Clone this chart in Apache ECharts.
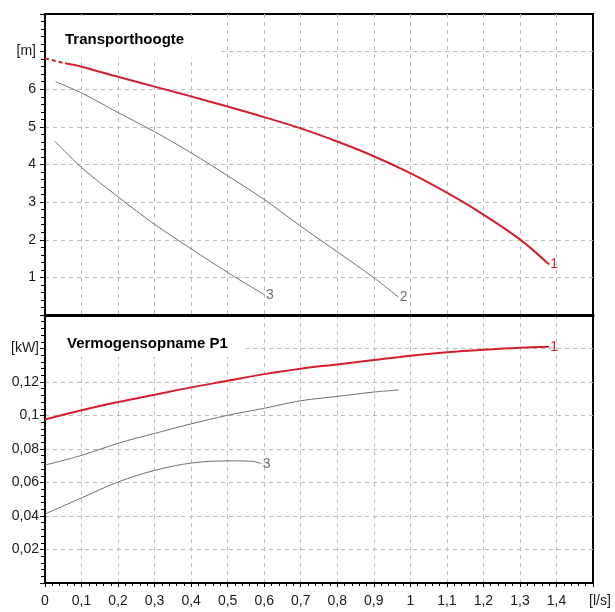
<!DOCTYPE html>
<html>
<head>
<meta charset="utf-8">
<script src="https://cdn.jsdelivr.net/npm/echarts@6/dist/echarts.min.js"></script>
<style>
  html, body { margin: 0; padding: 0; background: #fff; }
  #chart { width: 615px; height: 612px; }
</style>
</head>
<body>
<div id="chart"></div>
<script>
// flow [l/s] vs head [m]
const head1Lead = [[0, 6.82], [0.055, 6.69]];
const head1 = [[0.055, 6.69], [0.1, 6.6], [0.2, 6.33], [0.3, 6.07], [0.4, 5.81], [0.5, 5.54], [0.6, 5.26],
  [0.7, 4.96], [0.8, 4.61], [0.9, 4.22], [1.0, 3.77], [1.1, 3.25], [1.2, 2.67], [1.3, 2.01], [1.38, 1.34]];
const head2 = [[0.029, 6.2], [0.1, 5.9], [0.2, 5.38], [0.3, 4.87], [0.4, 4.31], [0.5, 3.7], [0.6, 3.07],
  [0.7, 2.36], [0.8, 1.68], [0.9, 0.99], [0.968, 0.47]];
const head3 = [[0.027, 4.62], [0.1, 3.92], [0.2, 3.14], [0.3, 2.41], [0.4, 1.76], [0.5, 1.13], [0.602, 0.53]];

// flow [l/s] vs power input P1 [kW]
const power1 = [[0, 0.0976], [0.1, 0.1031], [0.2, 0.108], [0.3, 0.1124], [0.4, 0.1168], [0.5, 0.1207],
  [0.6, 0.1247], [0.7, 0.1279], [0.8, 0.1305], [0.9, 0.1331], [1.0, 0.1357], [1.1, 0.1377], [1.2, 0.1392],
  [1.3, 0.1404], [1.38, 0.141]];
const power2 = [[0, 0.0704], [0.1, 0.0762], [0.2, 0.0834], [0.3, 0.0893], [0.4, 0.095], [0.5, 0.1001],
  [0.6, 0.1043], [0.7, 0.1088], [0.8, 0.1114], [0.9, 0.114], [0.968, 0.1152]];
const power3 = [[0, 0.0412], [0.1, 0.0508], [0.2, 0.0603], [0.3, 0.0672], [0.4, 0.0716], [0.5, 0.0729],
  [0.566, 0.0727], [0.593, 0.0712]];

const flowLabels = ['0', '0,1', '0,2', '0,3', '0,4', '0,5', '0,6', '0,7', '0,8', '0,9', '1', '1,1', '1,2', '1,3', '1,4', '[l/s]'];
const headLabels = ['', '1', '2', '3', '4', '5', '6', '[m]', ''];
const powerLabels = ['', '0,02', '0,04', '0,06', '0,08', '0,1', '0,12', '[kW]', ''];

const RED = '#d41f2c';
const GREY = '#6f6f6f';
const FONT = 'Arial, "Liberation Sans", sans-serif';

const chart = echarts.init(document.getElementById('chart'), null, { renderer: 'canvas' });

const gridLine = { show: true, showMinLine: false, showMaxLine: false, lineStyle: { type: [4, 4], color: '#bcbcbc', width: 1 } };
const blackLine = { show: true, lineStyle: { color: '#000', width: 2 } };
const tickStyle = { color: '#000', width: 1 };

function curve(name, data, xi, color, width, label) {
  return {
    name, type: 'line', xAxisIndex: xi, yAxisIndex: xi, data,
    smooth: 0.35, showSymbol: false, silent: true, z: 3,
    lineStyle: { color, width },
    endLabel: label ? { show: true, formatter: label, color, fontSize: 14, fontFamily: FONT, distance: 1 } : { show: false },
  };
}

const option = {
  animation: false,
  backgroundColor: '#fff',
  grid: [
    { left: 45, top: 14, width: 548, height: 301, show: true, borderColor: '#000', borderWidth: 2, backgroundColor: '#fff' },
    { left: 45, top: 315, width: 548, height: 268, show: true, borderColor: '#000', borderWidth: 2, backgroundColor: '#fff' },
  ],
  xAxis: [
    {
      gridIndex: 0, type: 'value', min: 0, max: 1.5, interval: 0.1,
      axisLabel: { show: false }, axisTick: { show: false }, axisLine: { show: true, lineStyle: { color: '#000', width: 3 } },
      splitLine: gridLine,
    },
    {
      gridIndex: 1, type: 'value', min: 0, max: 1.5, interval: 0.1,
      axisLine: blackLine,
      axisTick: { show: true, length: 4, lineStyle: tickStyle },
      minorTick: { show: true, splitNumber: 5, length: 3, lineStyle: tickStyle },
      splitLine: gridLine,
      axisLabel: {
        margin: 11, fontSize: 14, color: '#1a1a1a', fontFamily: FONT, showMaxLabel: true,
        formatter: (v) => {
          const i = Math.round(v * 10);
          return i === 15 ? '{u|' + flowLabels[i] + '}' : flowLabels[i];
        },
        rich: { u: { fontSize: 14, color: '#1a1a1a', fontFamily: FONT, padding: [0, 0, 0, 14] } },
      },
    },
  ],
  yAxis: [
    {
      gridIndex: 0, type: 'value', min: 0, max: 8, interval: 1,
      axisLine: blackLine,
      axisTick: { show: true, length: 5, lineStyle: tickStyle },
      minorTick: { show: true, splitNumber: 5, length: 4, lineStyle: tickStyle },
      splitLine: gridLine,
      axisLabel: { margin: 9, fontSize: 14, color: '#1a1a1a', fontFamily: FONT, formatter: (v) => headLabels[Math.round(v)] },
    },
    {
      gridIndex: 1, type: 'value', min: 0, max: 0.16, interval: 0.02,
      axisLine: blackLine,
      axisTick: { show: true, length: 5, lineStyle: tickStyle },
      minorTick: { show: true, splitNumber: 5, length: 4, lineStyle: tickStyle },
      splitLine: gridLine,
      axisLabel: { margin: 6, fontSize: 14, color: '#1a1a1a', fontFamily: FONT, formatter: (v) => powerLabels[Math.round(v / 0.02)] },
    },
  ],
  graphic: [
    { type: 'rect', z: 1, shape: { x: 47, y: 16, width: 172, height: 41 }, style: { fill: '#fff' } },
    { type: 'text', z: 1, style: { x: 65, y: 40, text: 'Transporthoogte', font: 'bold 15px ' + FONT, fill: '#000', verticalAlign: 'middle' } },
    { type: 'rect', z: 1, shape: { x: 47, y: 317, width: 199, height: 40 }, style: { fill: '#fff' } },
    { type: 'text', z: 1, style: { x: 67, y: 344, text: 'Vermogensopname P1', font: 'bold 15px ' + FONT, fill: '#000', verticalAlign: 'middle' } },
  ],
  series: [
    {
      type: 'line', xAxisIndex: 0, yAxisIndex: 0, data: head1Lead, showSymbol: false, silent: true, z: 3,
      lineStyle: { color: RED, width: 2, type: [4, 3] },
    },
    curve('H1', head1, 0, RED, 2, '1'),
    curve('H2', head2, 0, GREY, 1, '2'),
    curve('H3', head3, 0, GREY, 1, '3'),
    curve('P1', power1, 1, RED, 2, '1'),
    curve('P2', power2, 1, GREY, 1, null),
    curve('P3', power3, 1, GREY, 1, '3'),
  ],
};

chart.setOption(option);
window.addEventListener('resize', () => chart.resize());
</script>
</body>
</html>
